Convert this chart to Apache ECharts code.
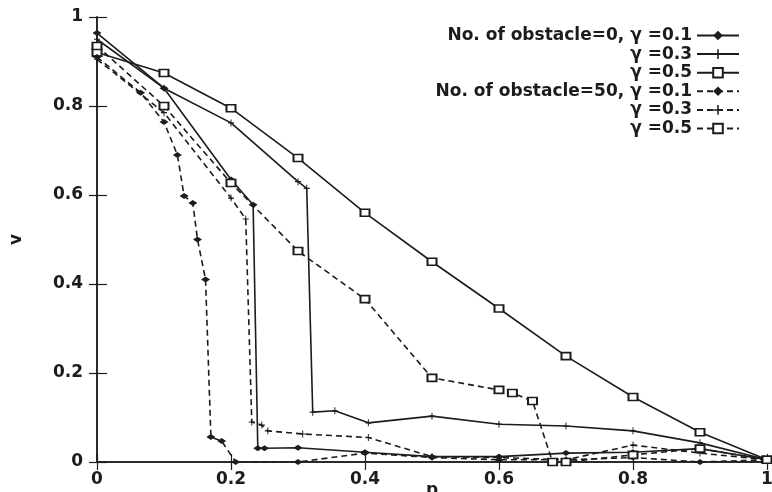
<!DOCTYPE html>
<html>
<head>
<meta charset="utf-8">
<script src="https://cdn.jsdelivr.net/npm/echarts@6/dist/echarts.min.js"></script>
<style>
html,body{margin:0;padding:0;background:#fff;}
#chart{width:772px;height:492px;}
</style>
</head>
<body>
<div id="chart"></div>
<script>
// obstacle=0
var s1x=[0,0.1,0.2,0.233,0.24,0.25,0.3,0.4,0.5,0.6,0.7,0.8,0.9,1];
var s1y=[0.964,0.84,0.635,0.578,0.031,0.031,0.032,0.022,0.012,0.012,0.02,0.022,0.03,0.005];
var s2x=[0,0.1,0.2,0.3,0.313,0.322,0.355,0.405,0.5,0.6,0.7,0.8,0.9,1];
var s2y=[0.95,0.84,0.762,0.63,0.615,0.112,0.115,0.088,0.103,0.085,0.081,0.07,0.043,0.005];
var s3x=[0,0.1,0.2,0.3,0.4,0.5,0.6,0.7,0.8,0.9,1];
var s3y=[0.92,0.874,0.795,0.683,0.56,0.45,0.345,0.238,0.146,0.067,0.005];
// obstacle=50
var s4x=[0,0.065,0.1,0.12,0.13,0.143,0.15,0.162,0.17,0.186,0.207,0.3,0.4,0.5,0.6,0.7,0.8,0.9,1];
var s4y=[0.91,0.83,0.764,0.69,0.598,0.582,0.5,0.41,0.056,0.047,0,0,0.02,0.01,0.005,0.005,0.01,0,0.005];
var s5x=[0,0.1,0.2,0.222,0.231,0.246,0.255,0.307,0.405,0.5,0.6,0.7,0.8,0.9,1];
var s5y=[0.905,0.785,0.593,0.546,0.09,0.083,0.07,0.063,0.055,0.012,0.01,0.005,0.038,0.02,0.005];
var s6x=[0,0.1,0.2,0.3,0.4,0.5,0.6,0.62,0.65,0.68,0.7,0.8,0.9,1];
var s6y=[0.935,0.8,0.627,0.474,0.366,0.189,0.162,0.155,0.137,0,0,0.016,0.03,0.005];

var names=['s1','s2','s3','s4','s5','s6'];
var legendText=['No. of obstacle=0, \u03b3 =0.1','\u03b3 =0.3','\u03b3 =0.5',
                'No. of obstacle=50, \u03b3 =0.1','\u03b3 =0.3','\u03b3 =0.5'];

var ink='#1c1c1c';
var font='DejaVu Sans';
var plusPath='path://M0,4.2h10v1.6h-10z M4.2,0h1.6v10h-1.6z';

function zip(xs,ys){
	var out=[];
	for(var i=0;i<xs.length;i++){ out.push([xs[i],ys[i]]); }
	return out;
}
function mk(name,xs,ys,dashed,sym){
	var s={
		name:name,
		type:'line',
		data:zip(xs,ys),
		symbol:'diamond',
		symbolSize:[9,6],
		lineStyle:{color:ink,width:1.6,type:dashed?[6,4]:'solid'},
		itemStyle:{color:ink},
		animation:false
	};
	if(sym=='plus'){
		s.symbol=plusPath;
		s.symbolSize=[6,7];
	}else if(sym=='square'){
		s.symbol='rect';
		s.symbolSize=[9,7];
		s.itemStyle={color:'#fff',borderColor:ink,borderWidth:1.8};
	}
	return s;
}

var myChart=echarts.init(document.getElementById('chart'));
var legends=[];
for(var i=0;i<6;i++){
	legends.push({
		data:[names[i]],
		right:27,
		top:22+18.6*i,
		align:'right',
		itemWidth:42,
		itemHeight:12,
		selectedMode:false,
		formatter:(function(t){return function(){return t;};})(legendText[i]),
		textStyle:{fontFamily:font,fontSize:17,fontWeight:'bold',color:ink,lineHeight:16}
	});
}

var option={
	backgroundColor:'#fff',
	animation:false,
	grid:{left:97,right:5,top:17,bottom:30,outerBoundsMode:'none',containLabel:false},
	legend:legends,
	xAxis:[{
		type:'value',min:0,max:1,interval:0.2,
		name:'p',nameLocation:'middle',nameGap:20,nameMoveOverlap:false,
		nameTextStyle:{fontFamily:font,fontSize:17,fontWeight:'bold',color:ink},
		axisLine:{lineStyle:{color:ink,width:1.5}},
		axisTick:{inside:true,length:8,lineStyle:{color:ink,width:1.2}},
		axisLabel:{fontFamily:font,fontSize:17,fontWeight:'bold',color:ink,margin:9},
		splitLine:{show:false}
	},{
		type:'value',min:0,max:1,interval:0.2,position:'top',
		axisLine:{lineStyle:{color:ink,width:1.5}},
		axisTick:{inside:true,length:8,lineStyle:{color:ink,width:1.2}},
		axisLabel:{show:false},
		splitLine:{show:false}
	}],
	yAxis:[{
		type:'value',min:0,max:1,interval:0.2,
		name:'v',nameLocation:'middle',nameGap:72,nameMoveOverlap:false,
		nameTextStyle:{fontFamily:font,fontSize:17,fontWeight:'bold',color:ink},
		axisLine:{show:true,lineStyle:{color:ink,width:1.5}},
		axisTick:{show:true,inside:true,length:10,lineStyle:{color:ink,width:1.2}},
		axisLabel:{fontFamily:font,fontSize:17,fontWeight:'bold',color:ink,margin:14},
		splitLine:{show:false}
	},{
		type:'value',min:0,max:1,interval:0.2,position:'right',
		axisLine:{show:true,lineStyle:{color:ink,width:1.5}},
		axisTick:{show:true,inside:true,length:8,lineStyle:{color:ink,width:1.2}},
		axisLabel:{show:false},
		splitLine:{show:false}
	}],
	series:[
		mk('s1',s1x,s1y,false,'diamond'),
		mk('s2',s2x,s2y,false,'plus'),
		mk('s3',s3x,s3y,false,'square'),
		mk('s4',s4x,s4y,true,'diamond'),
		mk('s5',s5x,s5y,true,'plus'),
		mk('s6',s6x,s6y,true,'square')
	]
};
myChart.setOption(option);
</script>
</body>
</html>
